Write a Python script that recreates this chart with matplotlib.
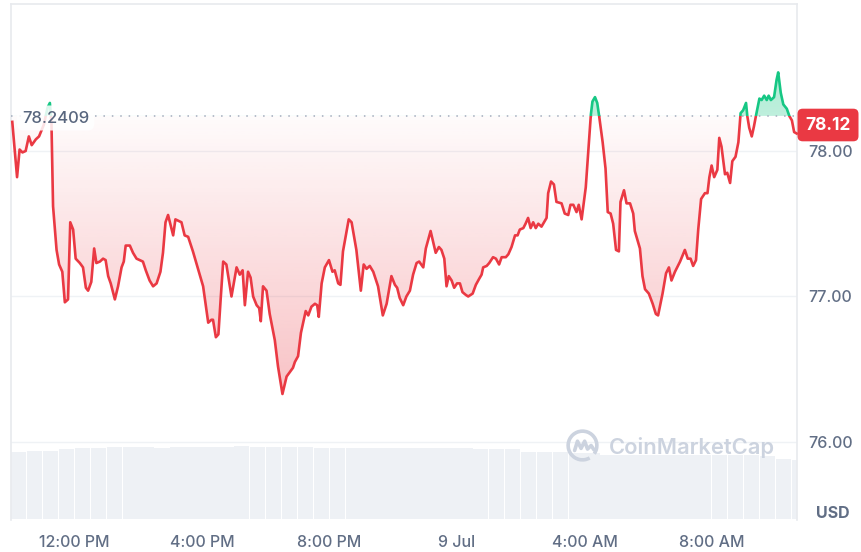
import numpy as np
import matplotlib
matplotlib.use("Agg")
import matplotlib.pyplot as plt
from matplotlib.patches import Polygon, Rectangle, Arc
from matplotlib.colors import to_rgb

plt.rcParams['font.family'] = ['Inter', 'DejaVu Sans']

# price, hours since 8 Jul 00:00
hours = [10.04, 10.19, 10.27, 10.36, 10.46, 10.56, 10.65, 10.78, 10.88, 11.03, 11.15, 11.22, 11.27, 11.32,
         11.43, 11.51, 11.61, 11.69, 11.79, 11.86, 11.95, 12.03, 12.16, 12.26, 12.35, 12.42, 12.52, 12.61,
         12.68, 12.79, 12.89, 12.97, 13.05, 13.13, 13.26, 13.36, 13.47, 13.54, 13.60, 13.73, 13.83, 13.94,
         14.04, 14.14, 14.23, 14.35, 14.46, 14.57, 14.69, 14.77, 14.85, 14.93, 15.09, 15.16, 15.35, 15.45,
         15.56, 15.71, 15.87, 16.03, 16.19, 16.29, 16.34, 16.43, 16.51, 16.58, 16.66, 16.76, 16.92, 17.08,
         17.18, 17.27, 17.34, 17.44, 17.52, 17.60, 17.71, 17.79, 17.84, 17.91, 18.02, 18.12, 18.28, 18.38,
         18.52, 18.65, 18.75, 18.85, 18.91, 19.01, 19.10, 19.17, 19.25, 19.33, 19.43, 19.54, 19.61, 19.66,
         19.75, 19.85, 19.98, 20.09, 20.16, 20.27, 20.34, 20.42, 20.60, 20.69, 20.84, 20.98, 21.07, 21.16,
         21.26, 21.37, 21.52, 21.67, 21.79, 21.94, 22.05, 22.12, 22.20, 22.31, 22.41, 22.52, 22.62, 22.73,
         22.81, 22.94, 23.02, 23.17, 23.33, 23.43, 23.51, 23.60, 23.67, 23.74, 23.83, 23.91, 24.00, 24.09,
         24.17, 24.28, 24.35, 24.49, 24.59, 24.69, 24.77, 24.82, 24.93, 25.01, 25.13, 25.22, 25.32, 25.40,
         25.53, 25.61, 25.71, 25.82, 25.90, 25.97, 26.08, 26.15, 26.23, 26.31, 26.39, 26.47, 26.55, 26.65,
         26.73, 26.81, 26.86, 26.95, 27.04, 27.12, 27.28, 27.38, 27.49, 27.56, 27.65, 27.75, 27.82, 27.91,
         28.04, 28.15, 28.20, 28.25, 28.33, 28.40, 28.46, 28.57, 28.66, 28.73, 28.82, 28.90, 28.99, 29.08,
         29.13, 29.24, 29.32, 29.43, 29.53, 29.58, 29.74, 29.82, 29.90, 30.02, 30.14, 30.24, 30.31, 30.45,
         30.56, 30.65, 30.73, 30.84, 31.00, 31.15, 31.24, 31.33, 31.41, 31.50, 31.57, 31.66, 31.78, 31.86,
         31.92, 31.99, 32.07, 32.17, 32.23, 32.30, 32.41, 32.48, 32.57, 32.64, 32.74, 32.83, 32.90, 32.98,
         33.07, 33.11, 33.17, 33.25, 33.32, 33.38, 33.49, 33.56, 33.64, 33.72, 33.78, 33.85, 33.95, 34.03,
         34.08, 34.16, 34.24, 34.35, 34.43, 34.51, 34.58, 34.66]
price = [78.20, 77.82, 78.01, 77.99, 78.00, 78.10, 78.04, 78.08, 78.10, 78.18, 78.30, 78.33, 78.19, 77.62,
         77.32, 77.22, 77.17, 76.96, 76.98, 77.51, 77.46, 77.26, 77.23, 77.20, 77.06, 77.04, 77.10, 77.33,
         77.23, 77.24, 77.26, 77.25, 77.14, 77.09, 76.98, 77.07, 77.20, 77.24, 77.35, 77.35, 77.30, 77.26,
         77.25, 77.24, 77.18, 77.11, 77.07, 77.09, 77.17, 77.30, 77.51, 77.56, 77.42, 77.53, 77.51, 77.42,
         77.41, 77.31, 77.19, 77.07, 76.82, 76.84, 76.84, 76.72, 76.74, 76.98, 77.24, 77.22, 77.00, 77.20,
         77.15, 77.18, 76.94, 77.17, 77.13, 77.00, 76.94, 76.92, 76.83, 77.07, 77.04, 76.88, 76.70, 76.52,
         76.33, 76.45, 76.48, 76.51, 76.55, 76.59, 76.75, 76.82, 76.90, 76.87, 76.93, 76.95, 76.94, 76.86,
         77.09, 77.20, 77.25, 77.17, 77.18, 77.09, 77.08, 77.31, 77.53, 77.51, 77.32, 77.04, 77.22, 77.19,
         77.21, 77.17, 77.07, 76.87, 76.95, 77.14, 77.08, 77.06, 76.99, 76.94, 77.00, 77.04, 77.15, 77.23,
         77.24, 77.20, 77.33, 77.45, 77.30, 77.34, 77.32, 77.26, 77.07, 77.14, 77.11, 77.06, 77.09, 77.09,
         77.03, 77.01, 77.00, 77.02, 77.08, 77.12, 77.15, 77.20, 77.21, 77.23, 77.27, 77.26, 77.22, 77.27,
         77.27, 77.29, 77.34, 77.42, 77.42, 77.46, 77.47, 77.50, 77.54, 77.47, 77.51, 77.47, 77.50, 77.48,
         77.51, 77.54, 77.71, 77.79, 77.77, 77.65, 77.64, 77.57, 77.56, 77.63, 77.63, 77.58, 77.63, 77.53,
         77.75, 78.09, 78.25, 78.34, 78.37, 78.33, 78.24, 78.06, 77.88, 77.58, 77.57, 77.50, 77.32, 77.31,
         77.65, 77.73, 77.64, 77.64, 77.57, 77.45, 77.33, 77.14, 77.05, 77.02, 76.95, 76.88, 76.87, 77.02,
         77.16, 77.20, 77.11, 77.17, 77.24, 77.32, 77.26, 77.26, 77.21, 77.25, 77.46, 77.67, 77.71, 77.71,
         77.82, 77.90, 77.82, 77.87, 78.09, 78.03, 77.84, 77.85, 77.78, 77.93, 77.96, 78.06, 78.26, 78.28,
         78.33, 78.24, 78.16, 78.10, 78.17, 78.24, 78.36, 78.35, 78.38, 78.35, 78.38, 78.35, 78.37, 78.49,
         78.54, 78.40, 78.32, 78.29, 78.24, 78.21, 78.13, 78.12]
open_price = 78.2409
last_price = 78.12

# 24h volume, half-hour buckets starting 10:00
vol_hours = np.arange(10.0, 35.0, 0.5)
volume = [67.3, 68.3, 68.3, 70.0, 71.5, 71.5, 71.6, 71.6, 71.6, 71.5, 71.6, 71.7, 71.7, 72.0, 72.6, 72.3,
          71.8, 71.6, 71.6, 71.5, 71.5, 71.4, 71.3, 71.2, 71.1, 71.0, 70.8, 70.7, 70.6, 70.4, 70.2, 69.8,
          67.0, 66.7, 66.6, 66.5, 66.3, 64.2, 64.0, 64.0, 64.0, 64.1, 64.0, 63.9, 63.8, 63.7, 63.7, 63.5,
          59.6, 59.5]

tick_hours = [12, 16, 20, 24, 28, 32]
tick_labels = ['12:00 PM', '4:00 PM', '8:00 PM', '9 Jul', '4:00 AM', '8:00 AM']
price_ticks = [76, 77, 78]

RED = '#ea3943'
GREEN = '#16c784'
GREY_TXT = '#616e85'
x_lim = (10.0, 34.67)
y_lim = (75.464, 79.01)

fig = plt.figure(figsize=(8.62, 5.52), dpi=100)
fig.patch.set_facecolor('white')

# volume panel underneath
ax_v = fig.add_axes([11 / 862, 1 - 519 / 552, 786 / 862, 73 / 552])
ax_v.bar(vol_hours, volume, width=0.485, align='edge', color='#eef1f5', linewidth=0)
ax_v.set_xlim(*x_lim)
ax_v.set_ylim(0, 73)
ax_v.axis('off')

ax = fig.add_axes([11 / 862, 1 - 520 / 552, 786 / 862, 516 / 552])
ax.patch.set_visible(False)

t = np.array(hours)
p = np.array(price)

# area between line and open price
poly = Polygon(np.column_stack([np.r_[t[0], t, t[-1]], np.r_[open_price, p, open_price]]),
               closed=True, transform=ax.transData, fc='none', ec='none')
ax.add_patch(poly)

grad_r = np.zeros((256, 1, 4))
grad_r[..., :3] = to_rgb(RED)
grad_r[:, 0, 3] = np.linspace(0.32, 0.02, 256)
im_r = ax.imshow(grad_r, extent=[t[0], t[-1], 76.25, open_price], origin='lower',
                 aspect='auto', interpolation='bilinear', zorder=2)
im_r.set_clip_path(poly)

grad_g = np.zeros((256, 1, 4))
grad_g[..., :3] = to_rgb(GREEN)
grad_g[:, 0, 3] = np.linspace(0.28, 0.36, 256)
im_g = ax.imshow(grad_g, extent=[t[0], t[-1], open_price, 78.6], origin='lower',
                 aspect='auto', interpolation='bilinear', zorder=2)
im_g.set_clip_path(poly)

# line, red below open and green above
line_r, = ax.plot(t, p, color=RED, lw=1.9, solid_joinstyle='round', zorder=4)
line_r.set_clip_path(Rectangle((0, 70), 50, open_price - 70, transform=ax.transData))
line_g, = ax.plot(t, p, color=GREEN, lw=1.9, solid_joinstyle='round', zorder=4)
line_g.set_clip_path(Rectangle((0, open_price), 50, 10, transform=ax.transData))

ax.axhline(open_price, color='#a3acbd', lw=1.1, ls=(0, (1, 4.5)), zorder=3)

ax.set_xlim(*x_lim)
ax.set_ylim(*y_lim)
ax.set_yticks(price_ticks)
ax.set_yticklabels([f'{v:.2f}' for v in price_ticks])
ax.yaxis.tick_right()
ax.grid(axis='y', color='#eff2f5', lw=1)
ax.set_axisbelow(True)
ax.set_xticks(tick_hours)
ax.set_xticklabels(tick_labels)
ax.tick_params(axis='y', length=0, pad=8, labelsize=11.5, labelcolor=GREY_TXT)
ax.tick_params(axis='x', length=0, pad=11, labelsize=11.5, labelcolor=GREY_TXT)
for lbl in ax.get_xticklabels() + ax.get_yticklabels():
    lbl.set_fontweight('medium')
ax.spines['bottom'].set_visible(False)
for s in ['top', 'left', 'right']:
    ax.spines[s].set_color('#e8eaee')
    ax.spines[s].set_linewidth(1.2)

# open price label
fig.text(22 / 862, 1 - 118 / 552, f'{open_price:.4f}', fontsize=12, color='#58667e',
         va='center', ha='left', fontweight='medium',
         bbox=dict(boxstyle='round,pad=0.3,rounding_size=0.4', fc='white', ec='none', alpha=0.85))

# last price badge
fig.text(828 / 862, 1 - 125 / 552, f'{last_price:.2f}', fontsize=12.5, fontweight='bold',
         color='white', ha='center', va='center',
         bbox=dict(boxstyle='round,pad=0.45,rounding_size=0.3', fc=RED, ec='none'))

fig.text(833 / 862, 1 - 513 / 552, 'USD', fontsize=11.5, fontweight='bold', color=GREY_TXT,
         ha='center', va='center')

# watermark
fig.text(609 / 862, 1 - 447 / 552, 'CoinMarketCap', fontsize=15.8, color='#ccd3df',
         fontweight='semibold', ha='left', va='center')
ax_logo = fig.add_axes([566 / 862, 1 - 462 / 552, 33 / 862, 33 / 552])
ax_logo.set_xlim(-1.15, 1.15)
ax_logo.set_ylim(-1.15, 1.15)
ax_logo.set_aspect('equal')
ax_logo.axis('off')
ax_logo.add_patch(Arc((0, 0), 2, 2, theta1=-35, theta2=300, color='#ccd3df', lw=2.6))
ax_logo.plot([-0.55, -0.35, -0.1, 0.15, 0.35, 0.6, 0.8], [-0.35, 0.3, -0.2, 0.3, -0.25, 0.0, -0.3],
             color='#ccd3df', lw=2.6, solid_joinstyle='round', solid_capstyle='round')

fig.savefig('out.png', dpi=100)
